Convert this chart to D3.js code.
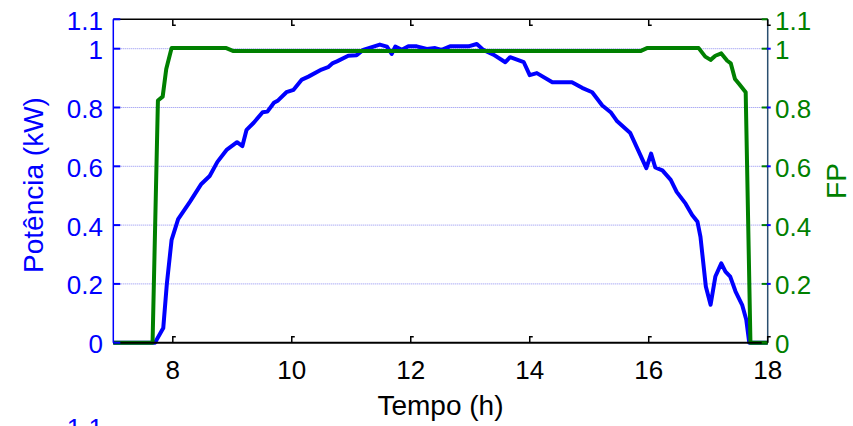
<!DOCTYPE html>
<html>
<head>
<meta charset="utf-8">
<script src="https://cdn.jsdelivr.net/npm/d3@7"></script>
<style>
  html, body { margin: 0; padding: 0; background: #fff; overflow: hidden; }
  svg { display: block; font-family: "Liberation Sans", Arial, sans-serif; }
</style>
</head>
<body>
<svg id="chart" width="853" height="426"></svg>
<script>
// ---- data ----
const potT = [7.00, 7.70, 7.84, 7.90, 7.98, 8.09, 8.29, 8.48, 8.62, 8.75, 8.91, 9.08, 9.17, 9.24, 9.36, 9.51, 9.59, 9.70, 9.77, 9.91,
  10.03, 10.17, 10.28, 10.50, 10.61, 10.69, 10.76, 10.95, 11.09, 11.20, 11.48, 11.60, 11.68, 11.74, 11.85, 11.96, 12.10, 12.27, 12.41, 12.52,
  12.66, 12.97, 13.11, 13.22, 13.39, 13.59, 13.67, 13.90, 14.00, 14.12, 14.38, 14.71, 14.88, 15.05, 15.22, 15.36, 15.47, 15.69, 15.81, 15.96,
  16.04, 16.11, 16.23, 16.37, 16.47, 16.62, 16.73, 16.82, 16.87, 16.96, 17.04, 17.12, 17.22, 17.29, 17.37, 17.46, 17.57, 17.64, 17.69, 18.00];
const potV = [0, 0, 0.05, 0.20, 0.35, 0.42, 0.48, 0.54, 0.567, 0.615, 0.657, 0.682, 0.669, 0.724, 0.748, 0.784, 0.786, 0.816, 0.824, 0.852,
  0.860, 0.895, 0.905, 0.929, 0.937, 0.951, 0.957, 0.976, 0.978, 0.996, 1.014, 1.007, 0.982, 1.007, 0.996, 1.008, 1.008, 0.999, 1.002, 0.996,
  1.008, 1.008, 1.016, 0.996, 0.980, 0.954, 0.971, 0.954, 0.910, 0.917, 0.886, 0.886, 0.867, 0.852, 0.807, 0.784, 0.753, 0.713, 0.660, 0.594,
  0.643, 0.596, 0.586, 0.554, 0.513, 0.473, 0.434, 0.411, 0.360, 0.191, 0.129, 0.225, 0.270, 0.242, 0.225, 0.174, 0.129, 0.078, 0.0, 0.0];
const fpT = [7.00, 7.66, 7.75, 7.83, 7.89, 7.98, 8.90, 9.02, 15.86, 15.97, 16.84, 16.95, 17.04, 17.12, 17.22, 17.32, 17.38, 17.45, 17.52, 17.63, 17.71, 18.00];
const fpV = [0, 0, 0.824, 0.837, 0.931, 1.002, 1.002, 0.992, 0.992, 1.002, 1.002, 0.973, 0.962, 0.976, 0.984, 0.959, 0.950, 0.897, 0.880, 0.852, 0, 0];

const xTicks = [8, 10, 12, 14, 16, 18];
const yTicks = [0, 0.2, 0.4, 0.6, 0.8, 1, 1.1];
const gridTicks = [0.2, 0.4, 0.6, 0.8, 1];

const labels = { x: "Tempo (h)", yLeft: "Potência (kW)", yRight: "FP" };

// ---- layout ----
const L = 113.3, R = 767.7, T = 19.3, B = 342.7;
const BLUE = "#0000ff", GREEN = "#008000";

const svg = d3.select("#chart");
const x = d3.scaleLinear().domain([7, 18]).range([L, R]);
const yL = d3.scaleLinear().domain([0, 1.1]).range([B, T]);
const yR = d3.scaleLinear().domain([0, 1.1]).range([B, T]);

// grid
svg.append("g").selectAll("line").data(gridTicks).join("line")
  .attr("x1", L).attr("x2", R)
  .attr("y1", d => yL(d)).attr("y2", d => yL(d))
  .attr("stroke", "#8c8cf0").attr("stroke-width", 1).attr("stroke-dasharray", "1,1");

// lines
const potData = potT.map((t, i) => [t, potV[i]]);
const fpData = fpT.map((t, i) => [t, fpV[i]]);
const lineL = d3.line().x(d => x(d[0])).y(d => yL(d[1]));
const lineR = d3.line().x(d => x(d[0])).y(d => yR(d[1]));

svg.append("path").datum(potData).attr("d", lineL)
  .attr("fill", "none").attr("stroke", BLUE).attr("stroke-width", 4)
  .attr("stroke-linejoin", "round");
svg.append("path").datum(fpData).attr("d", lineR)
  .attr("fill", "none").attr("stroke", GREEN).attr("stroke-width", 4)
  .attr("stroke-linejoin", "round");

// frame
svg.append("line").attr("x1", L).attr("x2", R).attr("y1", T).attr("y2", T)
  .attr("stroke", "#000").attr("stroke-width", 1.5);
svg.append("line").attr("x1", L).attr("x2", R).attr("y1", B).attr("y2", B)
  .attr("stroke", "#000").attr("stroke-width", 2);
svg.append("line").attr("x1", L).attr("x2", L).attr("y1", T).attr("y2", B)
  .attr("stroke", BLUE).attr("stroke-width", 1.5);
svg.append("line").attr("x1", R).attr("x2", R).attr("y1", T).attr("y2", B)
  .attr("stroke", "#2a4f6f").attr("stroke-width", 1.5);

// left axis ticks + labels
const gl = svg.append("g");
gl.selectAll("line").data(yTicks).join("line")
  .attr("x1", L).attr("x2", L + 7)
  .attr("y1", d => yL(d)).attr("y2", d => yL(d))
  .attr("stroke", BLUE).attr("stroke-width", 2);
gl.selectAll("text").data(yTicks).join("text")
  .attr("x", 103).attr("y", d => yL(d) + 10.5)
  .attr("text-anchor", "end").attr("fill", BLUE)
  .attr("font-size", 26)
  .text(d => d3.format("~g")(d));

// right axis ticks + labels
const gr = svg.append("g");
gr.selectAll("line.g").data(yTicks).join("line").attr("class", "g")
  .attr("x1", R - 6).attr("x2", R)
  .attr("y1", d => yR(d)).attr("y2", d => yR(d))
  .attr("stroke", GREEN).attr("stroke-width", 2);
gr.selectAll("line.b").data(gridTicks).join("line").attr("class", "b")
  .attr("x1", R - 1).attr("x2", R + 3)
  .attr("y1", d => yR(d)).attr("y2", d => yR(d))
  .attr("stroke", BLUE).attr("stroke-width", 2);
gr.selectAll("text").data(yTicks).join("text")
  .attr("x", 775).attr("y", d => yR(d) + 10.5)
  .attr("text-anchor", "start").attr("fill", GREEN)
  .attr("font-size", 26)
  .text(d => d3.format("~g")(d));

// x ticks (bottom + top) and labels
const gx = svg.append("g");
gx.selectAll("path.bt").data(xTicks).join("path").attr("class", "bt")
  .attr("d", d => `M${x(d)},${B} V${B - 6} H${x(d) + 3}`)
  .attr("fill", "none").attr("stroke", "#000").attr("stroke-width", 1.5);
gx.selectAll("path.tt").data(xTicks).join("path").attr("class", "tt")
  .attr("d", d => `M${x(d)},${T} V${T + 6} H${x(d) + 3}`)
  .attr("fill", "none").attr("stroke", "#000").attr("stroke-width", 1.5);
gx.selectAll("text").data(xTicks).join("text")
  .attr("x", d => x(d)).attr("y", 379)
  .attr("text-anchor", "middle").attr("fill", "#000")
  .attr("font-size", 26)
  .text(d => d);

// axis labels
svg.append("text").attr("x", (L + R) / 2).attr("y", 415)
  .attr("text-anchor", "middle").attr("font-size", 28).attr("fill", "#000")
  .text(labels.x);
svg.append("text").attr("transform", "translate(43,185) rotate(-90)")
  .attr("text-anchor", "middle").attr("font-size", 28).attr("fill", BLUE)
  .text(labels.yLeft);
svg.append("text").attr("transform", "translate(846,181) rotate(-90)")
  .attr("text-anchor", "middle").attr("font-size", 28).attr("fill", GREEN)
  .text(labels.yRight);

// partially visible label of the next chart below
svg.append("text").attr("x", 103).attr("y", 437)
  .attr("text-anchor", "end").attr("fill", BLUE).attr("font-size", 26)
  .text("1.1");
</script>
</body>
</html>
